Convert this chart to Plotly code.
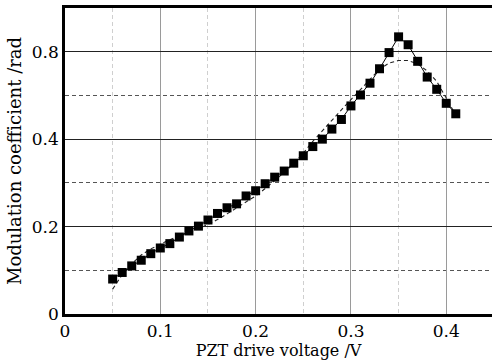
import plotly.graph_objects as go

# Measured data (PZT drive voltage /V vs modulation coefficient /rad)
voltage = [0.05, 0.06, 0.07, 0.08, 0.09, 0.10, 0.11, 0.12, 0.13, 0.14, 0.15, 0.16,
           0.17, 0.18, 0.19, 0.20, 0.21, 0.22, 0.23, 0.24, 0.25, 0.26, 0.27, 0.28,
           0.29, 0.30, 0.31, 0.32, 0.33, 0.34, 0.35, 0.36, 0.37, 0.38, 0.39, 0.40, 0.41]
measured = [0.080, 0.095, 0.110, 0.123, 0.138, 0.151, 0.161, 0.176, 0.190, 0.201, 0.215, 0.230,
            0.243, 0.252, 0.270, 0.282, 0.298, 0.313, 0.327, 0.345, 0.362, 0.383, 0.400, 0.423,
            0.445, 0.476, 0.501, 0.528, 0.561, 0.598, 0.634, 0.616, 0.578, 0.542, 0.514, 0.482, 0.458]
# Fitted (dashed) curve
fitted = [0.057, 0.090, 0.115, 0.135, 0.149, 0.160, 0.170, 0.179, 0.187, 0.195, 0.205, 0.216,
          0.229, 0.243, 0.256, 0.270, 0.287, 0.305, 0.324, 0.344, 0.368, 0.395, 0.420, 0.443,
          0.467, 0.490, 0.514, 0.535, 0.560, 0.574, 0.580, 0.580, 0.572, 0.556, 0.532, 0.494, 0.455]

x_tickvals = [0, 0.1, 0.2, 0.3, 0.4]
x_ticktext = ["0", "0.1", "0.2", "0.3", "0.4"]
y_tickvals = [0, 0.2, 0.4, 0.6]
y_ticktext = ["0", "0.2", "0.4", "0.8"]

font_family = "DejaVu Serif"

fig = go.Figure()
fig.add_trace(go.Scatter(
    x=voltage, y=fitted, mode="lines",
    line=dict(color="#222222", width=1.1, dash="4px,3px"),
    showlegend=False,
))
fig.add_trace(go.Scatter(
    x=voltage, y=measured, mode="lines+markers",
    line=dict(color="black", width=1),
    marker=dict(symbol="square", size=9, color="black"),
    showlegend=False,
))

fig.update_layout(
    width=492, height=364,
    margin=dict(l=65, r=0, t=8, b=50),
    paper_bgcolor="white", plot_bgcolor="white",
    font=dict(family=font_family, color="black", size=16),
    xaxis=dict(
        range=[0, 0.448],
        tickvals=x_tickvals, ticktext=x_ticktext,
        showgrid=True, gridcolor="#9a9a9a", gridwidth=1,
        minor=dict(dtick=0.05, tick0=0, showgrid=True, gridcolor="#cfcfcf",
                   griddash="4px,3px", gridwidth=1),
        showline=True, linecolor="black", linewidth=2.5, mirror=True,
        zeroline=False, ticks="",
        title=dict(text="PZT drive voltage /V", font=dict(size=16), standoff=3),
        tickfont=dict(size=17),
    ),
    yaxis=dict(
        range=[0, 0.7],
        tickvals=y_tickvals, ticktext=y_ticktext,
        showgrid=True, gridcolor="#222222", gridwidth=1,
        minor=dict(dtick=0.1, tick0=0, showgrid=True, gridcolor="#555555",
                   griddash="4px,3px", gridwidth=1.2),
        showline=True, linecolor="black", linewidth=2.5,
        zeroline=False, ticks="",
        title=dict(text="Modulation coefficient /rad", font=dict(size=18), standoff=6),
        tickfont=dict(size=17),
    ),
)

fig.write_html("out.html")
